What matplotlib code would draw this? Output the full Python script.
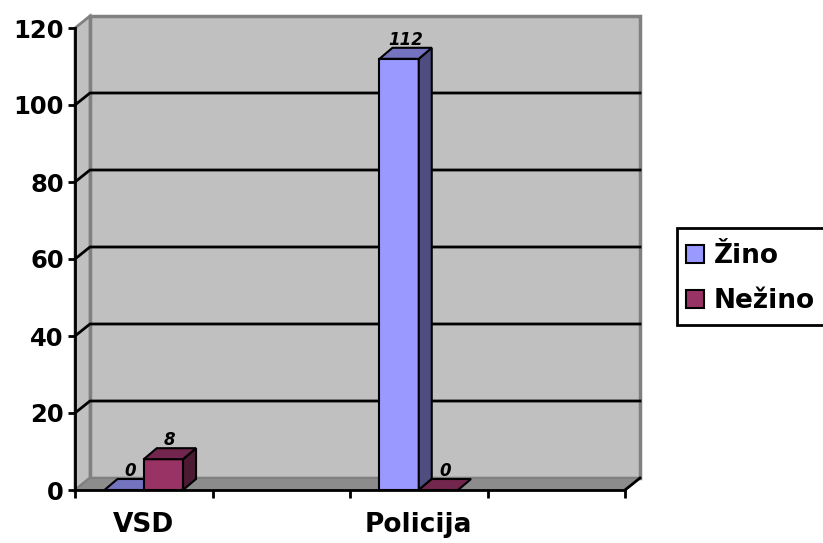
import matplotlib.pyplot as plt
from matplotlib.patches import Polygon, Rectangle

categories = ["VSD", "", "Policija", ""]
series = ["Žino", "Nežino"]
zino = [0, None, 112, None]
nezino = [8, None, 0, None]
yticks = [0, 20, 40, 60, 80, 100, 120]

front_colors = ["#9999FF", "#993366"]
top_colors = ["#7373C0", "#73264D"]
side_colors = ["#4D4D80", "#4D1A33"]

plt.rcParams["font.family"] = "DejaVu Sans"
plt.rcParams["font.weight"] = "bold"

W, H = 823, 543
fig = plt.figure(figsize=(W / 100, H / 100), dpi=100)
ax = fig.add_axes([75 / W, 1 - 490 / H, 550 / W, 462 / H])
n = len(categories)
ymax = yticks[-1]
ax.set_xlim(0, n)
ax.set_ylim(0, ymax)
ax.patch.set_visible(False)

# pixel -> data units for the fake depth
ux = n / 550
uy = ymax / 462
wx, wy = 15 * ux, 12 * uy   # walls
bx, by = 13 * ux, 11 * uy   # bars


def poly(pts, fc, ec="black", lw=1.5, z=2):
    ax.add_patch(Polygon(pts, closed=True, facecolor=fc, edgecolor=ec,
                         linewidth=lw, zorder=z, clip_on=False,
                         joinstyle="miter"))


# back wall, side wall, floor
poly([(wx, wy), (n + wx, wy), (n + wx, ymax + wy), (wx, ymax + wy)],
     "#C0C0C0", "#808080", 2.5, 0)
poly([(0, 0), (wx, wy), (wx, ymax + wy), (0, ymax)],
     "#C0C0C0", "#808080", 2, 0)
poly([(0, 0), (n, 0), (n + wx, wy), (wx, wy)], "#8C8C8C", "#808080", 1.5, 0)

for v in yticks[1:-1]:
    ax.plot([0, wx, n + wx], [v, v + wy, v + wy], color="black", lw=2,
            zorder=0.5, clip_on=False)
ax.plot([n, n + wx], [0, wy], color="black", lw=2, zorder=3, clip_on=False)

# bars
width = 1 / (len(series) + 1.5)
for j, vals in enumerate([zino, nezino]):
    for i, v in enumerate(vals):
        if v is None:
            continue
        x0 = i + 0.75 * width + j * width
        x1 = x0 + width
        if v > 0:
            poly([(x0, 0), (x1, 0), (x1, v), (x0, v)], front_colors[j])
            poly([(x1, 0), (x1 + bx, by), (x1 + bx, v + by), (x1, v)],
                 side_colors[j])
        poly([(x0, v), (x1, v), (x1 + bx, v + by), (x0 + bx, v + by)],
             top_colors[j])
        ax.text((x0 + x1 + bx) / 2, v + by + 0.8, str(v), ha="center",
                va="baseline", style="italic", fontsize=12, zorder=5)

# axes
for s in ["top", "right"]:
    ax.spines[s].set_visible(False)
for s in ["left", "bottom"]:
    ax.spines[s].set_linewidth(2)
    ax.spines[s].set_zorder(3)
ax.set_yticks(yticks)
ax.tick_params(axis="y", length=5, width=2, pad=3, labelsize=17.5)
ax.set_xticks(range(n + 1))
ax.set_xticklabels([])
ax.tick_params(axis="x", which="major", length=6, width=2)
ax.set_xticks([i + 0.5 for i in range(n)], minor=True)
ax.set_xticklabels(categories, minor=True, fontsize=19)
ax.tick_params(axis="x", which="minor", length=0, pad=16)

# legend
fig.patches.append(Rectangle((677 / W, 1 - 325 / H), 160 / W, 97 / H,
                             transform=fig.transFigure, facecolor="white",
                             edgecolor="black", linewidth=2))
for k, name in enumerate(series):
    yc = 254 + 45 * k
    fig.patches.append(Rectangle((686 / W, 1 - (yc + 9) / H), 18 / W, 18 / H,
                                 transform=fig.transFigure,
                                 facecolor=front_colors[k],
                                 edgecolor="black", linewidth=1.5))
    fig.text(714 / W, 1 - (yc + 9) / H, name, va="baseline", fontsize=19)

fig.savefig("out.png", dpi=100)
